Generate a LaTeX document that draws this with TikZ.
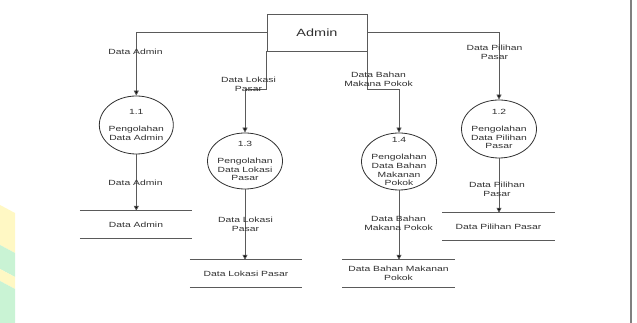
\documentclass[tikz,border=0pt]{standalone}
\usepackage{fontspec}
\setmainfont{Liberation Sans}[FakeStretch=1.38]
\usetikzlibrary{arrows.meta,shapes.geometric}
\definecolor{linegray}{HTML}{5A5A5A}
\definecolor{inkgray}{HTML}{303030}
\definecolor{bandyellow}{HTML}{FFF8C4}
\definecolor{bandgreen}{HTML}{C9F3D4}
\begin{document}
\begin{tikzpicture}[x=1pt,y=1pt,
  every node/.style={text=inkgray},
  small/.style={font=\fontsize{7.5}{8.7}\selectfont, align=center, inner sep=0pt},
  entity/.style={draw=linegray, line width=0.9pt, minimum width=100pt, minimum height=37pt,
    inner sep=0pt, font=\fontsize{10.5}{12}\selectfont},
  process/.style={draw=inkgray, line width=0.8pt, ellipse, inner sep=0pt},
  store/.style={small, minimum width=112pt, minimum height=27pt},
  storeline/.style={draw=linegray, line width=0.9pt},
  flow/.style={draw=linegray, line width=0.8pt, -{Triangle[length=5pt,width=5pt,fill=black]}}]
\useasboundingbox (0,0) rectangle (637,323);

% faint decorative bands at the lower left edge
\begin{scope}
  \clip (0,0) rectangle (15,118);
  \fill[bandyellow] (0,118) -- (15,110) -- (15,70) -- (0,78) -- cycle;
  \fill[bandgreen]  (0,78) -- (15,70) -- (15,46) -- (0,54) -- cycle;
  \fill[bandyellow] (0,54) -- (15,46) -- (15,34) -- (0,42) -- cycle;
  \fill[bandgreen]  (0,42) -- (15,34) -- (15,0) -- (0,0) -- cycle;
\end{scope}

% page edge on the right
\draw[color=gray, line width=1.2pt] (631,0) -- (631,323);

% external entity
\node[entity] (admin) at (317,290.5) {Admin};

% processes
\node[process, minimum width=74pt, minimum height=58pt] (p11) at (136.3,198) {};
\node[small] (p11t) at (p11.center) {1.1\\ \\Pengolahan\\Data Admin};
\node[process, minimum width=75pt, minimum height=56pt] (p13) at (245,162) {};
\node[small] (p13t) at (p13.center) {1.3\\ \\Pengolahan\\Data Lokasi\\Pasar};
\node[process, minimum width=75pt, minimum height=57pt] (p14) at (399,161.5) {};
\node[small] (p14t) at (p14.center) {1.4\\ \\Pengolahan\\Data Bahan\\Makanan\\Pokok};
\node[process, minimum width=75pt, minimum height=58pt] (p12) at (499,194) {};
\node[small] (p12t) at (p12.center) {1.2\\ \\Pengolahan\\Data Pilihan\\Pasar};

% data stores
\node[store] (sa) at (136,98.5) {Data Admin};
\node[store] (sl) at (246,49.5) {Data Lokasi Pasar};
\node[store] (sb) at (398.5,49.5) {Data Bahan Makanan\\Pokok};
\node[store] (sp) at (498.5,96.5) {Data Pilihan Pasar};
\foreach \s in {sa,sl,sb,sp}{
  \draw[storeline] (\s.north west) -- (\s.north east);
  \draw[storeline] (\s.south west) -- (\s.south east);
}

% flows from the entity
\coordinate (bend) at (0,234);
\draw[flow] (admin.west) -| (p11.north);
\draw[flow] (admin.south west) -- (admin.south west |- bend) -| (p13.north);
\draw[flow] (admin.south east) -- (admin.south east |- bend) -| (p14.north);
\draw[flow] (admin.east) -| (p12.north);

% flows into the stores
\draw[flow] (p11.south) -- (p11.south |- sa.north);
\draw[flow] (p13.south) -- (p13.south |- sl.north);
\draw[flow] (p14.south) -- (p14.south |- sb.north);
\draw[flow] (p12.south) -- (p12.south |- sp.north);

% flow labels
\node[small] (l1) at (135.5,271) {Data Admin};
\node[small] (l2) at (248.5,239) {Data Lokasi\\Pasar};
\node[small] (l3) at (378.5,243.5) {Data Bahan\\Makana Pokok};
\node[small] (l4) at (494.5,270.5) {Data Pilihan\\Pasar};
\node[small] (l5) at (135.5,140) {Data Admin};
\node[small] (l6) at (245.5,98.5) {Data Lokasi\\Pasar};
\node[small] (l7) at (398.5,99.5) {Data Bahan\\Makana Pokok};
\node[small] (l8) at (497,133.5) {Data Pilihan\\Pasar};
\end{tikzpicture}
\end{document}
